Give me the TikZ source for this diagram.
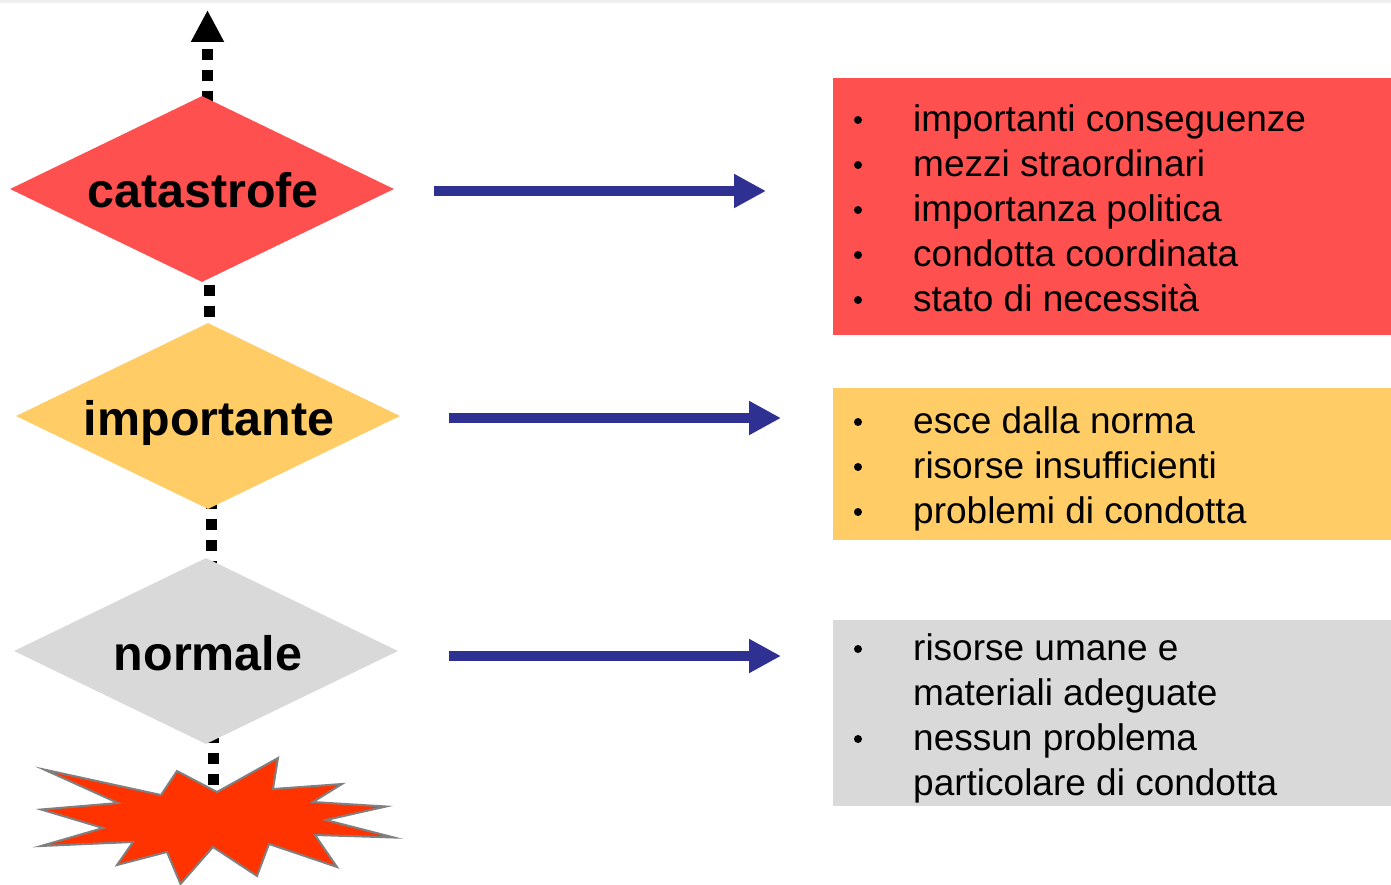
\documentclass[tikz,border=0pt]{standalone}
\usepackage{fontspec}
\setmainfont{Liberation Sans}
\usetikzlibrary{arrows.meta,shapes.geometric}
\definecolor{redlevel}{HTML}{FF5050}
\definecolor{orangelevel}{HTML}{FFCC66}
\definecolor{graylevel}{HTML}{D9D9D9}
\definecolor{burstfill}{HTML}{FF3300}
\definecolor{arrowblue}{HTML}{2E3192}
\tikzset{
  level/.style={diamond,aspect=2.065,minimum width=384pt,minimum height=186pt,inner sep=0pt,text height=38pt,text depth=0pt,font=\fontsize{48.4}{48.4}\selectfont\bfseries},
  levelbox/.style={anchor=north west,inner sep=0pt,minimum width=558pt},
  dots/.style={line width=11pt,dash pattern=on 11pt off 10pt},
  bluearrow/.style={draw=arrowblue,line width=10pt,-{Triangle[length=32pt,width=32pt,fill=arrowblue]}},
  itemtext/.style={anchor=base west,inner sep=0pt,font=\fontsize{37}{37}\selectfont},
  bulletmark/.style={circle,fill=black,inner sep=0pt,minimum size=8pt}
}
\begin{document}
\begin{tikzpicture}[x=1pt,y=-1pt]
\useasboundingbox (0,0) rectangle (1391,885);
\fill[black!6] (0,0) rectangle (1391,3);
% dotted line
\coordinate (t0) at (207.5,102.5);
\coordinate (tip) at (207.5,10);
\coordinate (t1) at (209.3,284.5);
\coordinate (t2) at (209.3,326);
\coordinate (t3) at (211.3,498);
\coordinate (t4) at (211.3,565);
\coordinate (t5) at (213.3,732);
\coordinate (t6) at (213.3,795);
\draw[dots,-{Triangle[length=32pt,width=31pt,fill=black]}] (t0) -- (tip);
\draw[dots] (t1) -- (t2);
\draw[dots] (t3) -- (t4);
\draw[dots] (t5) -- (t6);
% levels
\node[level,fill=redlevel] (catastrofe) at (202,189) {\hspace*{2pt}catastrofe};
\node[level,fill=orangelevel] (importante) at (208,416) {\hspace*{2pt}importante};
\node[level,fill=graylevel] (normale) at (206,651) {\hspace*{4pt}normale};
% burst
\draw[draw=gray,fill=burstfill,line width=2pt,line join=miter]
  (44,769.5) -- (118,803) -- (41,809.5) -- (103,828) -- (41,846) -- (133,842)
  -- (117,865) -- (167,852) -- (180.5,884) -- (213,847) -- (257,876) -- (269,844)
  -- (337,867) -- (315,835) -- (394,837.5) -- (326,820) -- (386,806.5) -- (313,802)
  -- (342,784) -- (273,789) -- (278,758) -- (217,792) -- (177,771) -- (161,795) -- cycle;
% boxes
\node[levelbox,fill=redlevel,minimum height=257pt] (boxcat) at (833,78) {};
\node[levelbox,fill=orangelevel,minimum height=152pt] (boximp) at (833,388) {};
\node[levelbox,fill=graylevel,minimum height=186pt] (boxnor) at (833,620) {};
% arrows
\coordinate (a1) at (434,191);
\coordinate (b1) at (766,191);
\coordinate (a2) at (449,418);
\coordinate (b2) at (781,418);
\coordinate (a3) at (449,656);
\coordinate (b3) at (781,656);
\draw[bluearrow] (a1) -- (b1);
\draw[bluearrow] (a2) -- (b2);
\draw[bluearrow] (a3) -- (b3);
% lists
\foreach \i/\ypos/\txt in {1/131.5/importanti conseguenze,2/176.5/mezzi straordinari,3/221.5/importanza politica,4/266/condotta coordinata,5/311/stato di necessità,6/433/esce dalla norma,7/478/risorse insufficienti,8/523/problemi di condotta,9/660/risorse umane e,10/705/materiali adeguate,11/750/nessun problema,12/795/particolare di condotta}
  \node[itemtext] (item\i) at (913,\ypos) {\txt};
\foreach \i/\ypos in {1/120,2/165,3/210,4/255,5/300,6/422,7/467,8/512,9/649,11/739}
  \node[bulletmark] (bullet\i) at (858,\ypos) {};
\end{tikzpicture}
\end{document}
